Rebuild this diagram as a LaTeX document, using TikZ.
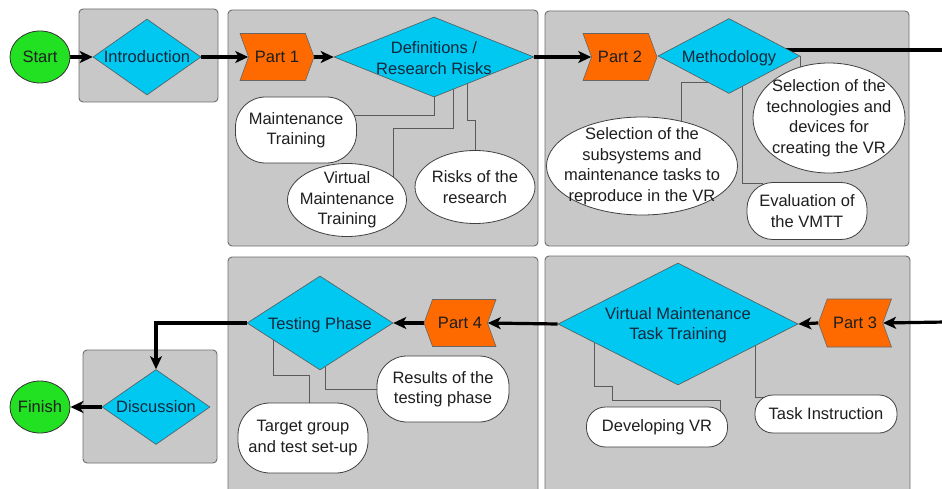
\documentclass[tikz,border=0pt]{standalone}
\usepackage{fontspec}
\setmainfont{Liberation Sans}
\usetikzlibrary{shapes.geometric,shapes.symbols,arrows.meta}
\pgfdeclarelayer{bg}
\pgfdeclarelayer{lines}
\pgfsetlayers{bg,lines,main}
\definecolor{panelgray}{HTML}{C8C8C8}
\definecolor{panelborder}{HTML}{6E6E6E}
\definecolor{diacyan}{HTML}{00C8F0}
\definecolor{partorange}{HTML}{FF6A00}
\definecolor{termgreen}{HTML}{22E022}
\definecolor{conngray}{HTML}{5A5A5A}
\definecolor{textdark}{HTML}{1E1E1E}
\definecolor{diatext}{HTML}{13283C}
\tikzset{
  panel/.style={draw=panelborder, fill=panelgray, rounded corners=4pt, line width=0.9pt, inner sep=0pt},
  term/.style={ellipse, draw=black!80, fill=termgreen, line width=0.8pt, inner sep=0pt},
  dia/.style={diamond, draw=black!65, fill=diacyan, line width=0.6pt, inner sep=0pt},
  partR/.style={signal, signal from=west, signal to=east, signal pointer angle=140, draw=black!60, fill=partorange, line width=0.6pt, inner sep=0pt},
  partL/.style={signal, signal from=east, signal to=west, signal pointer angle=140, draw=black!60, fill=partorange, line width=0.6pt, inner sep=0pt},
  note/.style={ellipse, draw=black!75, fill=white, line width=0.8pt, inner sep=0pt},
  pill/.style={rectangle, rounded corners=#1, draw=black!75, fill=white, line width=0.8pt, inner sep=0pt},
  txt/.style={font=\fontsize{16.5}{20.5}\selectfont, align=center, text=textdark, inner sep=0pt},
  dtxt/.style={txt, text=diatext},
  flow/.style={line width=3.2pt, draw=black, -{Stealth[length=13pt,width=12pt,inset=3.5pt]}},
  flowline/.style={line width=3.2pt, draw=black},
  conn/.style={draw=conngray, line width=0.9pt}
}
\begin{document}
\begin{tikzpicture}[x=1pt,y=-1pt]
\useasboundingbox (0,0) rectangle (942,489);
\begin{pgfonlayer}{bg}
\fill[white] (0,0) rectangle (942,489);
\node[panel, minimum width=139, minimum height=93] (pIntro) at (148.5,55.5) {};
\node[panel, minimum width=310, minimum height=236] (pP1) at (383,128) {};
\node[panel, minimum width=364, minimum height=235] (pP2) at (727,128.5) {};
\node[panel, minimum width=134, minimum height=113] (pDisc) at (150,406.5) {};
\node[panel, minimum width=310, minimum height=240] (pP4) at (383,377) {};
\node[panel, minimum width=365, minimum height=241] (pP3) at (727.5,376.5) {};
\end{pgfonlayer}

% terminals
\node[term, minimum width=60, minimum height=52] (start) at (40,57) {};
\node[txt] (tStart) at (start) {Start};
\node[term, minimum width=60, minimum height=52] (finish) at (40,407) {};
\node[txt] (tFinish) at (finish) {Finish};

% diamonds
\node[dia, minimum width=108, minimum height=76] (dIntro) at (147,57) {};
\node[dtxt] (tIntro) at (dIntro) {Introduction};
\node[dia, minimum width=200, minimum height=80] (dDefs) at (434,57) {};
\node[dtxt] (tDefs) at (434,58) {Definitions /\\Research Risks};
\node[dia, minimum width=142, minimum height=75] (dMeth) at (729,56) {};
\node[dtxt] (tMeth) at (729,58) {Methodology};
\node[dia, minimum width=146, minimum height=94] (dTest) at (320,323) {};
\node[dtxt] (tTest) at (320,325) {Testing Phase};
\node[dia, minimum width=240, minimum height=122] (dVmtt) at (678,324) {};
\node[dtxt] (tVmtt) at (678,325) {Virtual Maintenance\\Task Training};
\node[dia, minimum width=108, minimum height=75] (dDisc) at (156,407) {};
\node[dtxt] (tDisc) at (dDisc) {Discussion};

% parts
\node[partR, minimum width=74, minimum height=47] (part1) at (277,57) {};
\node[txt] (tPart1) at (277,57) {Part 1};
\node[partR, minimum width=74, minimum height=47] (part2) at (620,57) {};
\node[txt] (tPart2) at (620,57) {Part 2};
\node[partL, minimum width=72, minimum height=47] (part4) at (460,323) {};
\node[txt] (tPart4) at (460,323) {Part 4};
\node[partL, minimum width=73, minimum height=48] (part3) at (855,323) {};
\node[txt] (tPart3) at (855,323) {Part 3};

% notes
\node[pill=30pt, minimum width=121, minimum height=66] (eMT) at (296,130) {};
\node[txt] (tMT) at (eMT) {Maintenance\\Training};
\node[note, minimum width=119, minimum height=73] (eVMT) at (347,200) {};
\node[txt] (tVMT) at (eVMT) {Virtual\\Maintenance\\Training};
\node[note, minimum width=120, minimum height=73] (eRisk) at (475,187) {};
\node[txt] (tRisk) at (eRisk) {Risks of the\\research};
\node[note, minimum width=191, minimum height=98] (eSub) at (642,166) {};
\node[txt] (tSub) at (eSub) {Selection of the\\subsystems and\\maintenance tasks to\\reproduce in the VR};
\node[note, minimum width=152, minimum height=110] (eTech) at (829,118) {};
\node[txt] (tTech) at (eTech) {Selection of the\\technologies and\\devices for\\creating the VR};
\node[pill=26pt, minimum width=120, minimum height=57] (eEval) at (807,211) {};
\node[txt] (tEval) at (eEval) {Evaluation of\\the VMTT};
\node[pill=30pt, minimum width=132, minimum height=66] (eRes) at (443,389) {};
\node[txt] (tRes) at (eRes) {Results of the\\testing phase};
\node[pill=32pt, minimum width=130, minimum height=70] (eTarget) at (303,438) {};
\node[txt] (tTarget) at (eTarget) {Target group\\and test set-up};
\node[pill=19pt, minimum width=141, minimum height=40] (eDev) at (657,427) {};
\node[txt] (tDev) at (eDev) {Developing VR};
\node[pill=18pt, minimum width=142, minimum height=38] (eTask) at (826,414) {};
\node[txt] (tTask) at (eTask) {Task Instruction};

\coordinate (exitR) at (946,50);
\coordinate (entryR) at (946,322);

\begin{pgfonlayer}{lines}
% main flow
\draw[flow] (start.east) -- (dIntro.west);
\draw[flow] (dIntro.east) -- (part1.west);
\draw[flow] (part1.east) -- (dDefs.west);
\draw[flow] (dDefs.east) -- (part2.west);
\draw[flowline] (dMeth.center |- 0,50) -- (exitR);
\draw[flow] (entryR) -- (part3.east);
\draw[flow] (part3.west) -- (dVmtt.east);
\draw[flow] (dVmtt.west) -- (part4.east);
\draw[flow] (part4.west) -- (dTest.east);
\draw[flow] (dTest.west) -| (dDisc.north);
\draw[flow] (dDisc.west) -- (finish.east);
% annotation connectors
\draw[conn] (dDefs.center) |- (eMT.center |- 0,115);
\draw[conn] (dDefs.center -| 453,0) |- (393,128) -- (393,0 |- eVMT.center);
\draw[conn] (dDefs.center -| 467,0) |- (475,120) -- (eRisk.center);
\draw[conn] (dMeth.center |- 0,82) -| (eSub.center -| 681,0);
\draw[conn] (dMeth.east) -- (dMeth.east |- eTech.center);
\draw[conn] (dMeth.center -| 742,0) |- (762,183) -- (762,0 |- eEval.center);
\draw[conn] (dTest.center -| 325,0) |- (eRes.center);
\draw[conn] (dTest.center -| 273,0) |- (309,375) -- (309,0 |- eTarget.center);
\draw[conn] (dVmtt.center -| 594,0) |- (612,386) |- (720,400) -- (720,0 |- eDev.center);
\draw[conn] (dVmtt.center -| 755,0) |- (eTask.center |- 0,397);
\end{pgfonlayer}
\end{tikzpicture}
\end{document}
